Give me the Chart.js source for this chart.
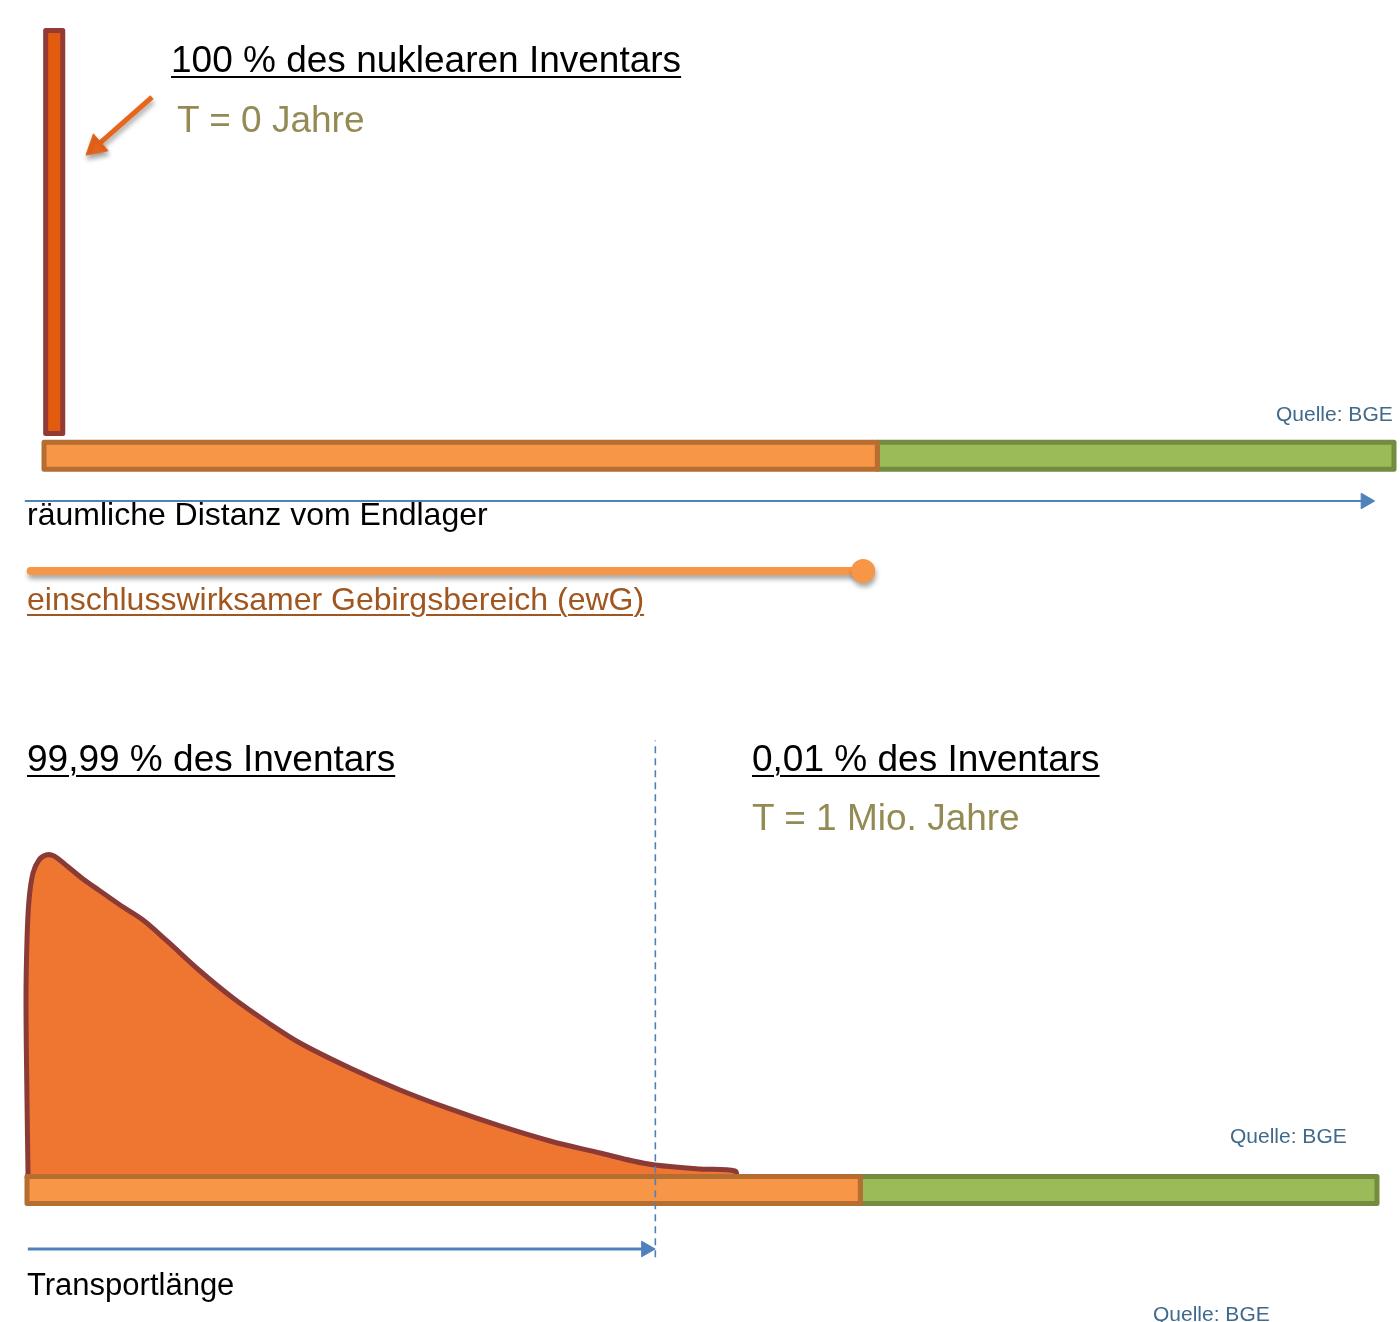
<!DOCTYPE html>
<html lang="de">
<head>
<meta charset="utf-8">
<title>Nukleares Inventar und ewG</title>
<script src="https://cdn.jsdelivr.net/npm/chart.js@4.4.1/dist/chart.umd.min.js"></script>
<style>
  body { margin: 0; background: #fff; font-family: "Liberation Sans", Arial, sans-serif; }
  #wrap { position: relative; width: 1400px; height: 1322px; overflow: hidden; }
  canvas { position: absolute; left: 0; }
  #top { top: 0; }
  #bottom { top: 640px; }
  .t { position: absolute; white-space: nowrap; line-height: 1; z-index: 2; }
  .u { text-decoration: underline; text-decoration-thickness: 2px; text-underline-offset: 4px; }
  .big { font-size: 37px; }
  .mid { font-size: 32px; }
  .src { font-size: 21px; color: #3f6a8c; }
  .olive { color: #948a54; }
</style>
</head>
<body>
<div id="wrap">
  <canvas id="top" width="1400" height="640"></canvas>
  <canvas id="bottom" width="1400" height="682"></canvas>

  <div class="t big u" style="left:171px; top:41px;">100 % des nuklearen Inventars</div>
  <div class="t big olive" style="left:177px; top:101px;">T = 0 Jahre</div>
  <div class="t src" style="left:1276px; top:403px;">Quelle: BGE</div>
  <div class="t mid" style="left:27px; top:498px;">räumliche Distanz vom Endlager</div>
  <div class="t mid u" style="left:27px; top:583px; color:#a0561e;">einschlusswirksamer Gebirgsbereich (ewG)</div>

  <div class="t big u" style="left:27px; top:740px;">99,99 % des Inventars</div>
  <div class="t big u" style="left:752px; top:740px;">0,01 % des Inventars</div>
  <div class="t big olive" style="left:752px; top:799px;">T = 1 Mio. Jahre</div>
  <div class="t src" style="left:1230px; top:1125px;">Quelle: BGE</div>
  <div class="t" style="left:27px; top:1269px; font-size:31px;">Transportlänge</div>
  <div class="t src" style="left:1153px; top:1303px;">Quelle: BGE</div>
</div>

<script>
// Distanz in relativen Einheiten: ewG reicht von 0 bis 100
const zoneNames = ['ewG', 'Umgebung'];
const zoneFrom = [0, 100];
const zoneTo = [100, 162];

// T = 0: das ganze Inventar sitzt an der Quelle
const inventoryT0 = 100;     // %
const sourceFrom = 0.2;
const sourceTo = 2.25;

// T = 1 Mio. Jahre: Verteilung ueber die Distanz (relativ, Maximum = 100)
const curveDist = [0.12, 0, -0.12, 0, 0.24, 0.72, 1.44, 2.28, 3.24, 4.8, 6.72, 8.76, 11.16, 13.92,
  16.8, 20.76, 24.72, 28.8, 32.76, 38.76, 44.76, 50.76, 56.76, 62.76, 68.76, 72.72, 75.36, 80.76, 84.96];
const curveConc = [0, 22.96, 54.4, 73.27, 85.85, 94.34, 98.43, 100, 99.69, 96.54, 92.45, 88.68, 84.28, 79.56,
  72.96, 63.52, 55.03, 47.48, 40.88, 33.02, 26.1, 20.13, 14.78, 10.06, 6.29, 3.77, 2.52, 1.26, 0.63];
const transportLength = 75.4;

const distAxis = [-2.3, 158.6];
const ewgLine = [-1.6, 98.3];

// layout (y-Werte in Achseneinheiten)
const topStrip = [-8.9, -2.2];
const topArrowY = -16.75;
const topEwgY = -34.1;
const pointerFrom = { x: 12.96, y: 83.5 };
const pointerTo = { x: 6.22, y: 71.2 };

const botStrip = [-9.6, -1.1];
const botArrowY = -23.9;
const dashY = [-26.5, 136];
const curveCloseY = -1.6;   // Unterkante der Kurve, liegt unter dem Balken

const ORANGE = '#f79646', ORANGE_EDGE = '#b66d31';
const GREEN = '#9bbb59', GREEN_EDGE = '#738c40';
const BLUE = '#4f81bd';
const zoneFill = [ORANGE, GREEN];
const zoneEdge = [ORANGE_EDGE, GREEN_EDGE];

function rect(x0, x1, y0, y1) {
  return [{x: x0, y: y0}, {x: x1, y: y0}, {x: x1, y: y1}, {x: x0, y: y1}, {x: x0, y: y0}];
}

function zoneSets(band) {
  return zoneNames.map((n, i) => ({
    label: n,
    data: rect(zoneFrom[i], zoneTo[i], band[0], band[1]),
    showLine: true, tension: 0, fill: 'shape',
    backgroundColor: zoneFill[i], borderColor: zoneEdge[i], borderWidth: 5,
    borderJoinStyle: 'round'
  }));
}

function arrow(from, to, color, width, head, rot, shadow) {
  return {
    data: [from, to],
    showLine: true, tension: 0, fill: false,
    borderColor: color, borderWidth: width, borderCapStyle: 'butt',
    pointRadius: [0, head], pointStyle: 'triangle', pointRotation: rot,
    pointBackgroundColor: color, pointBorderColor: color, pointBorderWidth: 1,
    shadow: shadow
  };
}

const shadowPlugin = {
  id: 'shadow',
  beforeDatasetDraw(chart, args) {
    if (!chart.data.datasets[args.index].shadow) return;
    const ctx = chart.ctx;
    ctx.save();
    ctx.shadowColor = 'rgba(0,0,0,0.35)';
    ctx.shadowBlur = 5;
    ctx.shadowOffsetX = 1;
    ctx.shadowOffsetY = 4;
  },
  afterDatasetDraw(chart, args) {
    if (chart.data.datasets[args.index].shadow) chart.ctx.restore();
  }
};

function baseOptions(xr, yr) {
  return {
    responsive: false, animation: false, events: [],
    layout: { padding: 0, autoPadding: false },
    elements: { point: { radius: 0, hoverRadius: 0 } },
    plugins: { legend: { display: false }, tooltip: { enabled: false } },
    scales: {
      x: { type: 'linear', min: xr[0], max: xr[1], display: false },
      y: { type: 'linear', min: yr[0], max: yr[1], display: false }
    }
  };
}

// oben: T = 0
new Chart(document.getElementById('top'), {
  type: 'scatter',
  data: {
    datasets: [
      {
        label: 'Inventar T=0',
        data: rect(sourceFrom, sourceTo, 0, inventoryT0),
        showLine: true, tension: 0, fill: 'shape',
        backgroundColor: '#e35b0e', borderColor: '#923a36', borderWidth: 5, borderJoinStyle: 'round'
      },
      {
        label: 'ewG',
        data: [{x: ewgLine[0], y: topEwgY}, {x: ewgLine[1], y: topEwgY}],
        showLine: true, tension: 0, fill: false,
        borderColor: ORANGE, borderWidth: 8, borderCapStyle: 'round',
        pointRadius: [0, 12], pointStyle: 'circle',
        pointBackgroundColor: ORANGE, pointBorderWidth: 0,
        shadow: true
      },
      arrow({x: distAxis[0], y: topArrowY}, {x: distAxis[1], y: topArrowY}, BLUE, 2, 9, 90, false),
      arrow(pointerFrom, pointerTo, '#e8651c', 5, 13, 229, true),
      ...zoneSets(topStrip)
    ]
  },
  options: baseOptions([-5.28, 162.72], [-51.24, 107.57]),
  plugins: [shadowPlugin]
});

// unten: T = 1 Mio. Jahre
const curvePts = curveDist.map((d, i) => ({x: d, y: curveConc[i]}));
const lastDist = curveDist[curveDist.length - 1];
curvePts.push({x: lastDist, y: curveCloseY}, {x: curveDist[0], y: curveCloseY}, {x: curveDist[0], y: curveConc[0]});

new Chart(document.getElementById('bottom'), {
  type: 'scatter',
  data: {
    datasets: [
      {
        label: 'Grenze Transport',
        data: [{x: transportLength, y: dashY[0]}, {x: transportLength, y: dashY[1]}],
        showLine: true, tension: 0, fill: false,
        borderColor: BLUE, borderWidth: 1.6, borderDash: [7, 5]
      },
      arrow({x: 0.1, y: botArrowY}, {x: transportLength - 1.1, y: botArrowY}, BLUE, 3, 9, 90, false),
      ...zoneSets(botStrip),
      {
        label: 'Verteilung',
        data: curvePts,
        showLine: true, tension: 0.35, fill: 'shape',
        backgroundColor: '#ee7631', borderColor: '#8b3a36', borderWidth: 5,
        borderJoinStyle: 'round', borderCapStyle: 'round'
      }
    ]
  },
  options: baseOptions([-3.24, 164.76], [-46.86, 167.61]),
  plugins: [shadowPlugin]
});
</script>
</body>
</html>
